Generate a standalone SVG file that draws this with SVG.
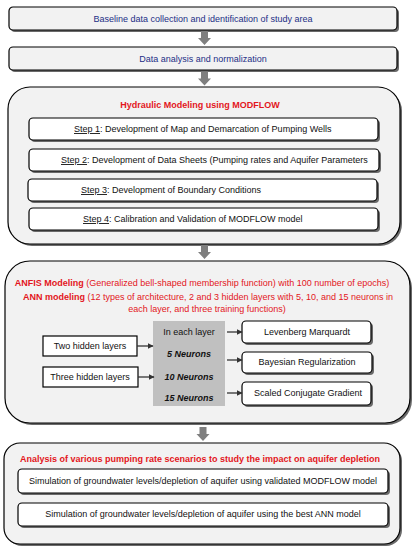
<svg xmlns="http://www.w3.org/2000/svg" width="417" height="550" viewBox="0 0 417 550">
<defs>
<style>
.t{font-family:"Liberation Sans",Arial,sans-serif;font-size:9px}
.blue{fill:#1c2f86}
.red{fill:#e3161c}
.blk{fill:#111}
.b{font-weight:bold}
.bi{font-weight:bold;font-style:italic}
.box{fill:#f2f2f2;stroke:#000;stroke-width:1.2}
.wbox{fill:#fff;stroke:#000;stroke-width:1.2}
.sh{fill:#6a6a6a}
.sa{stroke:#333;stroke-width:1.3;fill:none}
</style>
<path id="blk" d="M-3.5,0 H3.5 V7 H6.5 L0,14 L-6.5,7 H-3.5 Z" fill="#7f7f7f"/>
<marker id="ah" viewBox="0 0 10 10" refX="9" refY="5" markerWidth="6" markerHeight="6" orient="auto" markerUnits="userSpaceOnUse">
<path d="M0,0 L10,5 L0,10 Z" fill="#333"/>
</marker>
</defs>
<rect width="417" height="550" fill="#fff"/>

<g id="baseline">
<rect class="sh" x="11" y="9" width="388" height="23" rx="4"/>
<rect class="box" x="9" y="7" width="388" height="23" rx="4"/>
<text class="t blue" x="203" y="22" text-anchor="middle">Baseline data collection and identification of study area</text>
</g>

<g id="analysis">
<rect class="sh" x="11" y="49" width="388" height="23" rx="4"/>
<rect class="box" x="9" y="47" width="388" height="23" rx="4"/>
<text class="t blue" x="203" y="62" text-anchor="middle">Data analysis and normalization</text>
</g>

<g id="hydraulic">
<rect class="sh" x="10" y="89" width="392" height="157" rx="22"/>
<rect class="box" x="8" y="87" width="392" height="157" rx="22"/>
<text class="t red b" x="200" y="108" text-anchor="middle">Hydraulic Modeling using MODFLOW</text>
</g>

<g id="step1">
<rect class="sh" x="31" y="120" width="349" height="22" rx="4"/>
<rect class="wbox" x="29" y="118" width="349" height="22" rx="4"/>
<text class="t blk" x="74" y="132"><tspan text-decoration="underline">Step 1</tspan>: Development of Map and Demarcation of Pumping Wells</text>
</g>

<g id="step2">
<rect class="sh" x="31" y="151" width="350" height="22" rx="4"/>
<rect class="wbox" x="29" y="149" width="350" height="22" rx="4"/>
<text class="t blk" x="61" y="163"><tspan text-decoration="underline">Step 2</tspan>: Development of Data Sheets (Pumping rates and Aquifer Parameters</text>
</g>

<g id="step3">
<rect class="sh" x="30" y="181" width="349" height="22" rx="4"/>
<rect class="wbox" x="28" y="179" width="349" height="22" rx="4"/>
<text class="t blk" x="81" y="193"><tspan text-decoration="underline">Step 3</tspan>: Development of Boundary Conditions</text>
</g>

<g id="step4">
<rect class="sh" x="31" y="210" width="349" height="22" rx="4"/>
<rect class="wbox" x="29" y="208" width="349" height="22" rx="4"/>
<text class="t blk" x="83" y="222"><tspan text-decoration="underline">Step 4</tspan>: Calibration and Validation of MODFLOW model</text>
</g>

<g id="anfis">
<rect class="sh" x="7" y="263" width="405" height="162" rx="25"/>
<rect class="box" x="5" y="261" width="405" height="162" rx="25"/>
<text class="t red" x="202" y="286" text-anchor="middle"><tspan class="b">ANFIS Modeling</tspan> (Generalized bell-shaped membership function) with 100 number of epochs)</text>
<text class="t red" x="208" y="300" text-anchor="middle"><tspan class="b">ANN modeling</tspan> (12 types of architecture, 2 and 3 hidden layers with 5, 10, and 15 neurons in</text>
<text class="t red" x="207" y="312" text-anchor="middle">each layer, and three training functions)</text>
</g>

<g id="neurons">
<rect x="153" y="321" width="72" height="85" fill="#c0c0c0"/>
<text class="t blk" x="189" y="335" text-anchor="middle">In each layer</text>
<text class="t blk bi" x="189" y="357" text-anchor="middle">5 Neurons</text>
<text class="t blk bi" x="189" y="380" text-anchor="middle">10 Neurons</text>
<text class="t blk bi" x="189" y="401" text-anchor="middle">15 Neurons</text>
</g>

<g id="two-hidden">
<rect class="wbox" x="43" y="336" width="94" height="20"/>
<text class="t blk" x="90" y="349" text-anchor="middle">Two hidden layers</text>
</g>

<g id="three-hidden">
<rect class="wbox" x="43" y="367" width="95" height="20"/>
<text class="t blk" x="90" y="380" text-anchor="middle">Three hidden layers</text>
</g>

<g id="levenberg">
<rect class="sh" x="244" y="323" width="129" height="22" rx="4"/>
<rect class="wbox" x="242" y="321" width="129" height="22" rx="4"/>
<text class="t blk" x="307" y="335" text-anchor="middle">Levenberg Marquardt</text>
</g>

<g id="bayesian">
<rect class="sh" x="244" y="354" width="130" height="21" rx="4"/>
<rect class="wbox" x="242" y="352" width="130" height="21" rx="4"/>
<text class="t blk" x="307" y="365" text-anchor="middle">Bayesian Regularization</text>
</g>

<g id="scaled">
<rect class="sh" x="244" y="384" width="129" height="23" rx="4"/>
<rect class="wbox" x="242" y="382" width="129" height="23" rx="4"/>
<text class="t blk" x="308" y="396" text-anchor="middle">Scaled Conjugate Gradient</text>
</g>

<g id="scenarios">
<rect class="sh" x="6" y="445" width="396" height="101" rx="16"/>
<rect class="box" x="4" y="443" width="396" height="101" rx="16"/>
<text class="t red b" x="200" y="462" text-anchor="middle">Analysis of various pumping rate scenarios to study the impact on aquifer depletion</text>
</g>

<g id="sim1">
<rect class="sh" x="20" y="471" width="370" height="24" rx="4"/>
<rect class="wbox" x="18" y="469" width="370" height="24" rx="4"/>
<text class="t blk" x="203" y="484" text-anchor="middle">Simulation of groundwater levels/depletion of aquifer using validated MODFLOW model</text>
</g>

<g id="sim2">
<rect class="sh" x="20" y="505" width="370" height="23" rx="4"/>
<rect class="wbox" x="18" y="503" width="370" height="23" rx="4"/>
<text class="t blk" x="203" y="517" text-anchor="middle">Simulation of groundwater levels/depletion of aquifer using the best ANN model</text>
</g>

<g id="connectors">
<use href="#blk" x="204.5" y="31"/>
<use href="#blk" x="204.5" y="71.5"/>
<use href="#blk" x="204.5" y="245"/>
<use href="#blk" x="203" y="427"/>
<line class="sa" x1="137" y1="346" x2="153" y2="346" marker-end="url(#ah)"/>
<line class="sa" x1="138" y1="377" x2="154" y2="377" marker-end="url(#ah)"/>
<line class="sa" x1="227" y1="332" x2="242" y2="332" marker-end="url(#ah)"/>
<line class="sa" x1="227" y1="360" x2="242" y2="360" marker-end="url(#ah)"/>
<line class="sa" x1="227" y1="393" x2="242" y2="393" marker-end="url(#ah)"/>
</g>
</svg>
